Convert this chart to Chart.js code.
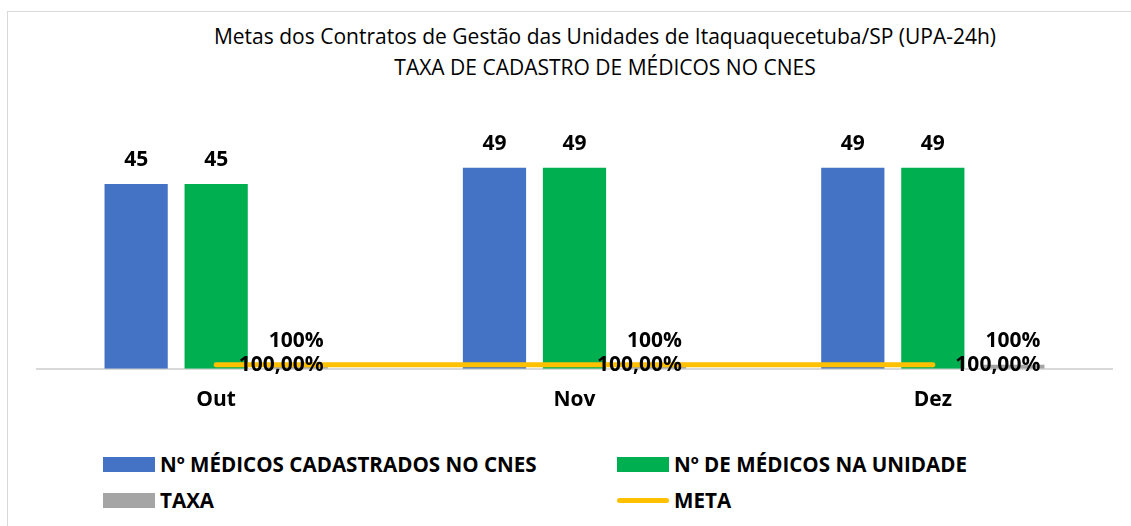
<!DOCTYPE html>
<html>
<head>
<meta charset="utf-8">
<script src="https://cdn.jsdelivr.net/npm/chart.js@4.4.1/dist/chart.umd.min.js"></script>
<style>
  html, body { margin: 0; padding: 0; background: #fff; }
  body { width: 1131px; height: 526px; position: relative; overflow: hidden; font-family: "Open Sans", sans-serif; }
  #frame { position: absolute; left: 7px; top: 11px; width: 1140px; height: 530px; border: 1px solid #d9d9d9; box-sizing: border-box; }
  #title { position: absolute; left: 0; width: 1210px; top: 21px; text-align: center; font-size: 21px; line-height: 31px; color: #000; }
  #chart { position: absolute; left: 0; top: 0; }
  .lg { position: absolute; font-weight: bold; font-size: 20.6px; color: #000; line-height: 22px; white-space: nowrap; }
  .lg i { position: absolute; left: 0; }
  .lg span { position: absolute; left: 57px; top: 0; }
</style>
</head>
<body>
<div id="frame"></div>
<div id="title">Metas dos Contratos de Gestão das Unidades de Itaquaquecetuba/SP (UPA-24h)<br>TAXA DE CADASTRO DE MÉDICOS NO CNES</div>
<canvas id="chart" width="1131" height="444"></canvas>
<div id="legend"></div>
<script>
const categories = ['Out', 'Nov', 'Dez']
const cadastrados = [45, 49, 49]
const naUnidade = [45, 49, 49]
const taxa = [1, 1, 1]
const meta = [1, 1, 1]

const pct0 = v => Math.round(v * 100) + '%'
const pct2 = v => (v * 100).toFixed(2).replace('.', ',') + '%'

// labels above bars / next to the META line
const valueLabels = {
    id: 'valueLabels',
    afterDatasetsDraw(chart) {
        const ctx = chart.ctx
        ctx.save()
        ctx.font = 'bold 21px "Open Sans"'
        ctx.fillStyle = '#000'
        ctx.textAlign = 'center'
        ctx.textBaseline = 'middle'
        chart.data.datasets.forEach((ds, i) => {
            const m = chart.getDatasetMeta(i)
            m.data.forEach((el, j) => {
                const v = ds.data[j]
                const txt = ds.fmt ? ds.fmt(v) : String(v)
                if (ds.type === 'line') ctx.fillText(txt, el.x + 65, el.y)
                else ctx.fillText(txt, el.x, el.y - 24)
            })
        })
        ctx.restore()
    }
}

const chart = new Chart(document.getElementById('chart'), {
    type: 'bar',
    data: {
        labels: categories,
        datasets: [
            { label: 'Nº MÉDICOS CADASTRADOS NO CNES', data: cadastrados, backgroundColor: '#4472C4', order: 1 },
            { label: 'Nº DE MÉDICOS NA UNIDADE', data: naUnidade, backgroundColor: '#00B050', order: 1 },
            { label: 'TAXA', data: taxa, backgroundColor: '#A5A5A5', order: 1, fmt: pct0 },
            { label: 'META', type: 'line', data: meta, borderColor: '#FFC000', backgroundColor: '#FFC000',
              borderWidth: 5, borderCapStyle: 'round', pointRadius: 0, order: 0, fmt: pct2 }
        ]
    },
    options: {
        responsive: false,
        animation: false,
        layout: { padding: { left: 37, right: 19, top: 143, bottom: 20 } },
        datasets: { bar: { categoryPercentage: 0.67, barPercentage: 0.79 } },
        scales: {
            y: { display: false, min: 0, max: 55 },
            x: {
                grid: { display: false },
                border: { display: true, color: '#d9d9d9', width: 2 },
                ticks: { color: '#000', padding: 11, font: { family: 'Open Sans', size: 21, weight: 'bold' } }
            }
        },
        plugins: { legend: { display: false }, title: { display: false }, tooltip: { enabled: false } }
    },
    plugins: [valueLabels]
})

// legend, 2 columns
const legend = document.getElementById('legend')
const cols = [103, 617], rows = [453, 489]
chart.data.datasets.forEach((ds, i) => {
    const d = document.createElement('div')
    d.className = 'lg'
    d.style.left = cols[i % 2] + 'px'
    d.style.top = rows[Math.floor(i / 2)] + 'px'
    const box = document.createElement('i')
    if (ds.type === 'line') {
        box.style.cssText = 'top:9px;width:52px;height:5px;border-radius:3px;background:' + ds.borderColor
    } else {
        box.style.cssText = 'top:4px;width:52px;height:15px;background:' + ds.backgroundColor
    }
    const t = document.createElement('span')
    t.textContent = ds.label
    d.appendChild(box)
    d.appendChild(t)
    legend.appendChild(d)
})
</script>
</body>
</html>
